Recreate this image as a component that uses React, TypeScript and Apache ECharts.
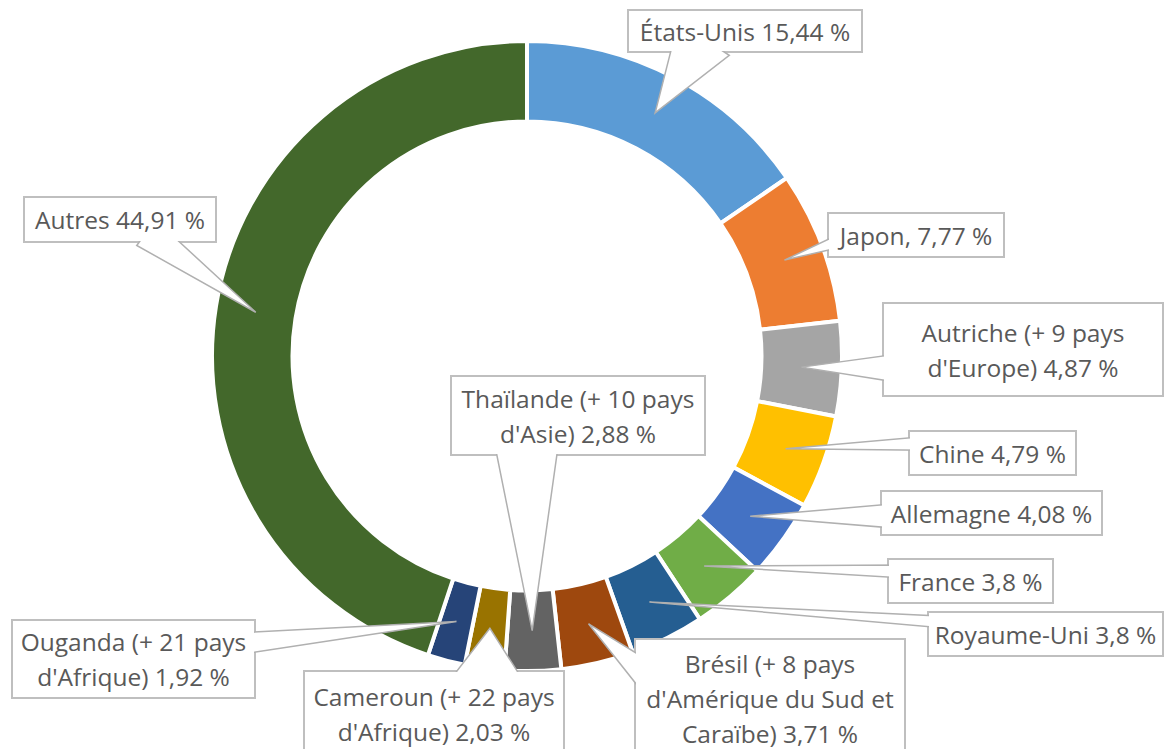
import React, { useEffect, useRef } from "react";
import * as echarts from "echarts";

// ---- data ----
const countries = [
  "États-Unis",
  "Japon",
  "Autriche",
  "Chine",
  "Allemagne",
  "France",
  "Royaume-Uni",
  "Brésil",
  "Thaïlande",
  "Cameroun",
  "Ouganda",
  "Autres",
];
const shares = [15.44, 7.77, 4.87, 4.79, 4.08, 3.8, 3.8, 3.71, 2.88, 2.03, 1.92, 44.91];
const labelPrefixes = [
  "États-Unis",
  "Japon,",
  "Autriche (+ 9 pays\nd'Europe)",
  "Chine",
  "Allemagne",
  "France",
  "Royaume-Uni",
  "Brésil (+ 8 pays\nd'Amérique du Sud et\nCaraïbe)",
  "Thaïlande (+ 10 pays\nd'Asie)",
  "Cameroun (+ 22 pays\nd'Afrique)",
  "Ouganda (+ 21 pays\nd'Afrique)",
  "Autres",
];

// ---- styles / layout ----
const colors = [
  "#5B9BD5", "#ED7D31", "#A5A5A5", "#FFC000", "#4472C4", "#70AD47",
  "#255E91", "#9E480E", "#636363", "#997300", "#264478", "#43682B",
];
// callout boxes: [x, y, w, h]
const boxes: number[][] = [
  [628, 10, 234, 42],
  [828, 213, 176, 44],
  [883, 303, 280, 93],
  [909, 431, 167, 44],
  [881, 491, 221, 44],
  [888, 559, 165, 44],
  [928, 612, 235, 44],
  [635, 639, 270, 118],
  [451, 376, 254, 79],
  [304, 671, 260, 86],
  [12, 620, 243, 78],
  [24, 197, 192, 45],
];
// where each callout pointer joins its box: [x, y, half-width]
const pointerBases: number[][] = [
  [695, 52, 25],
  [828, 245, 5],
  [883, 368, 12],
  [909, 444, 6],
  [881, 516, 11],
  [888, 571, 6],
  [928, 621, 5.5],
  [635, 665, 11],
  [527, 455, 30],
  [488, 671, 30],
  [255, 642, 10],
  [159, 242, 14],
];

const CX = 527;
const CY = 356;
const R_IN = 236.5;
const R_OUT = 313;
const BORDER = 4;
const BOX_LINE = 2;

function fmt(v: number) {
  return String(v).replace(".", ",") + " %";
}

export default function App() {
  const ref = useRef<HTMLDivElement>(null);
  useEffect(() => {
    if (!ref.current) return;
    const chart = echarts.init(ref.current, undefined, { renderer: "svg" });
    const total = shares.reduce((a, b) => a + b, 0);
    const rMid = (R_IN + R_OUT) / 2;
    let cum = 0;
    const graphics: any[] = [];
    shares.forEach((v, i) => {
      const theta = ((cum + v / 2) / total) * 2 * Math.PI;
      cum += v;
      const tx = CX + rMid * Math.sin(theta);
      const ty = CY - rMid * Math.cos(theta);
      const [bx, by, bw, bh] = boxes[i];
      const [ex, ey, half] = pointerBases[i];
      const dx = ex - tx;
      const dy = ey - ty;
      const len = Math.sqrt(dx * dx + dy * dy) || 1;
      const k = 1 + 16 / len;
      const cx = tx + dx * k;
      const cy = ty + dy * k;
      const px = (-dy / len) * half * k;
      const py = (dx / len) * half * k;
      // box border
      graphics.push({
        type: "rect",
        z: 10,
        silent: true,
        shape: { x: bx, y: by, width: bw, height: bh },
        style: { fill: "none", stroke: "#bfbfbf", lineWidth: BOX_LINE },
      });
      // pointer wedge
      graphics.push({
        type: "polygon",
        z: 11,
        silent: true,
        shape: { points: [[tx, ty], [cx + px, cy + py], [cx - px, cy - py]] },
        style: { fill: "#ffffff", stroke: "#b0b0b0", lineWidth: 1.5 },
      });
      // box fill (hides the inner part of the wedge)
      graphics.push({
        type: "rect",
        z: 12,
        silent: true,
        shape: { x: bx + 1, y: by + 1, width: bw - 2, height: bh - 2 },
        style: { fill: "#ffffff" },
      });
      graphics.push({
        type: "text",
        z: 13,
        silent: true,
        x: bx + bw / 2,
        y: by + bh / 2,
        style: {
          text: labelPrefixes[i] + " " + fmt(v),
          fill: "#595959",
          font: "24.5px 'Open Sans'",
          textAlign: "center",
          textVerticalAlign: "middle",
          lineHeight: 35,
        },
      });
    });

    chart.setOption({
      animation: false,
      backgroundColor: "#ffffff",
      series: [
        {
          type: "pie",
          center: [CX, CY],
          radius: [R_IN - BORDER / 2, R_OUT + BORDER / 2],
          startAngle: 90,
          clockwise: true,
          silent: true,
          label: { show: false },
          labelLine: { show: false },
          itemStyle: { borderColor: "#ffffff", borderWidth: BORDER },
          data: countries.map((name, i) => ({
            name,
            value: shares[i],
            itemStyle: { color: colors[i] },
          })),
        },
      ],
      graphic: graphics,
    });
    return () => chart.dispose();
  }, []);
  return (
    <div
      ref={ref}
      style={{ position: "fixed", left: 0, top: 0, width: 1165, height: 749 }}
    />
  );
}
